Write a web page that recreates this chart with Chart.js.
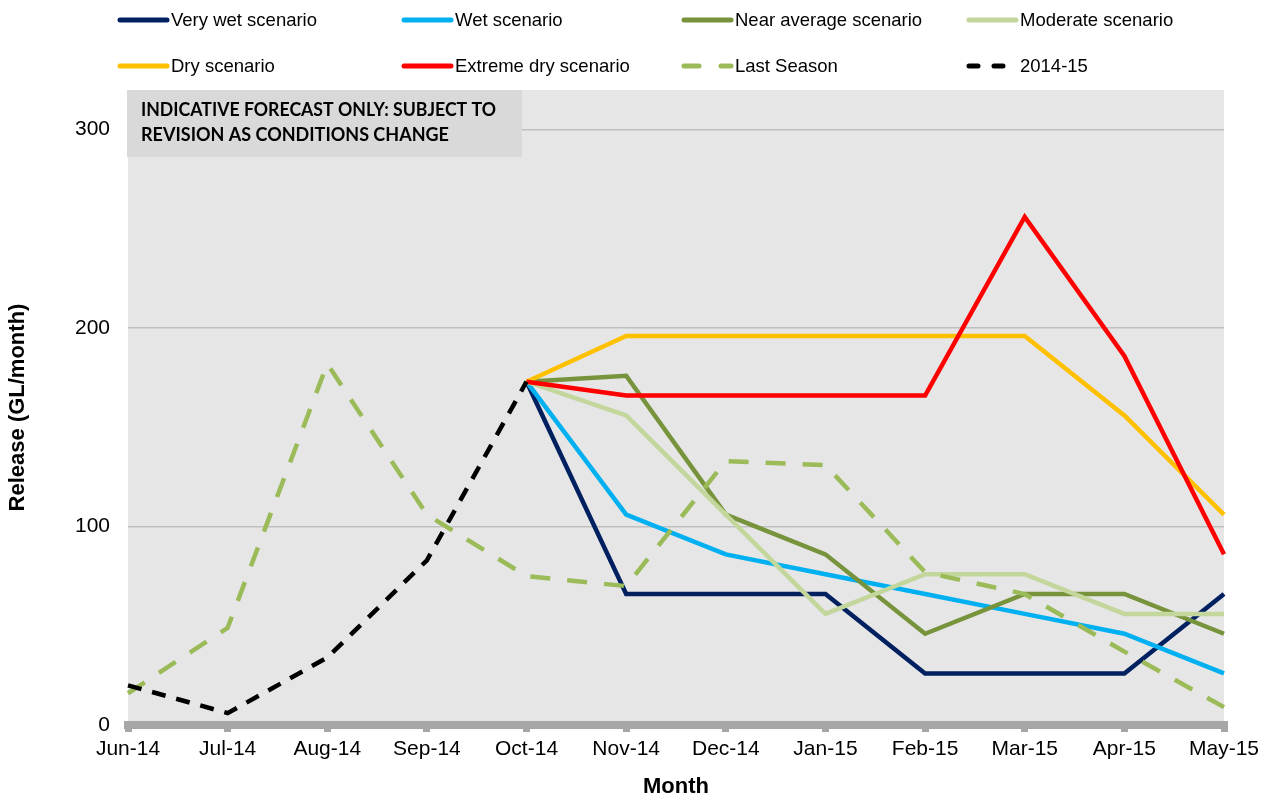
<!DOCTYPE html>
<html>
<head>
<meta charset="utf-8">
<script src="https://cdn.jsdelivr.net/npm/chart.js@4.4.7/dist/chart.umd.min.js"></script>
<style>
  html, body { margin: 0; padding: 0; background: #fff; }
  #wrap { position: relative; width: 1271px; height: 798px; }
</style>
</head>
<body>
<div id="wrap"><canvas id="chart"></canvas></div>
<script>
const months = ['Jun-14', 'Jul-14', 'Aug-14', 'Sep-14', 'Oct-14', 'Nov-14',
  'Dec-14', 'Jan-15', 'Feb-15', 'Mar-15', 'Apr-15', 'May-15'];

// GL/month, scenarios start from the Oct-14 actual
const veryWet     = [null, null, null, null, 173, 66, 66, 66, 26, 26, 26, 66];
const wet         = [null, null, null, null, 173, 106, 86, 76, 66, 56, 46, 26];
const nearAverage = [null, null, null, null, 173, 176, 106, 86, 46, 66, 66, 46];
const moderate    = [null, null, null, null, 173, 156, 106, 56, 76, 76, 56, 56];
const dry         = [null, null, null, null, 173, 196, 196, 196, 196, 196, 156, 106];
const extremeDry  = [null, null, null, null, 173, 166, 166, 166, 166, 256, 186, 86];
const lastSeason  = [16, 49, 182, 106, 75, 70, 133, 131, 77, 66, 37, 9];
const season1415  = [20, 6, 34, 83, 173, null, null, null, null, null, null, null];

const yTicks = [0, 100, 200, 300];

const FONT = '"Liberation Sans", Arial, sans-serif';

function line(label, data, color, dash) {
  return {
    label: label,
    data: data,
    borderColor: color,
    backgroundColor: color,
    borderWidth: 4.5,
    borderDash: dash || [],
    pointRadius: 0,
    pointHoverRadius: 0,
    tension: 0,
    spanGaps: false,
    fill: false
  };
}

const datasets = [
  line('Very wet scenario', veryWet, '#002060'),
  line('Wet scenario', wet, '#00B0F0'),
  line('Near average scenario', nearAverage, '#77933C'),
  line('Moderate scenario', moderate, '#C3D69B'),
  line('Dry scenario', dry, '#FFC000'),
  line('Extreme dry scenario', extremeDry, '#FF0000'),
  line('Last Season', lastSeason, '#9BBB59', [20, 17]),
  line('2014-15', season1415, '#000000', [14, 11])
];
// later series sit on top
datasets.forEach((d, i) => { d.order = datasets.length - i; });

// grey plot background
const plotBackground = {
  id: 'plotBackground',
  beforeDraw(chart) {
    const { ctx, chartArea: a } = chart;
    ctx.save();
    ctx.fillStyle = '#E6E6E6';
    ctx.fillRect(a.left, a.top, a.right - a.left, a.bottom - a.top);
    ctx.restore();
  }
};

// forecast note in the top left corner of the plot
const forecastNote = {
  id: 'forecastNote',
  afterDraw(chart) {
    const { ctx, chartArea: a } = chart;
    ctx.save();
    ctx.fillStyle = '#D9D9D9';
    ctx.fillRect(a.left - 1, a.top, 395, 67);
    ctx.fillStyle = '#000';
    ctx.font = 'bold 18px Lato, "Open Sans", sans-serif';
    ctx.textBaseline = 'middle';
    ctx.textAlign = 'left';
    ctx.fillText('INDICATIVE FORECAST ONLY: SUBJECT TO', a.left + 13, a.top + 20, 355);
    ctx.fillText('REVISION AS CONDITIONS CHANGE', a.left + 13, a.top + 45, 355);
    ctx.restore();
  }
};

// four-column legend above the plot
const gridLegend = {
  id: 'gridLegend',
  afterDraw(chart) {
    const { ctx } = chart;
    const cols = [117, 401, 681, 966];
    const rows = [20, 66];
    ctx.save();
    ctx.font = '18.5px ' + FONT;
    ctx.textBaseline = 'middle';
    ctx.textAlign = 'left';
    chart.data.datasets.forEach((ds, i) => {
      const x = cols[i % 4];
      const y = rows[Math.floor(i / 4)];
      const dashed = ds.borderDash.length > 0;
      ctx.strokeStyle = ds.borderColor;
      ctx.lineWidth = 5;
      ctx.lineCap = 'round';
      ctx.setLineDash(dashed ? [ds.borderDash[0] - 5, ds.borderDash[1] + 5] : []);
      ctx.beginPath();
      ctx.moveTo(x + 3, y);
      ctx.lineTo(x + 50, y);
      ctx.stroke();
      ctx.setLineDash([]);
      ctx.fillStyle = '#000';
      ctx.fillText(ds.label, x + 54, y + 1);
    });
    ctx.restore();
  }
};

new Chart(document.getElementById('chart'), {
  type: 'line',
  data: { labels: months, datasets: datasets },
  plugins: [plotBackground, forecastNote, gridLegend],
  options: {
    responsive: true,
    maintainAspectRatio: false,
    animation: false,
    layout: { padding: { top: 90, right: 47, left: 0, bottom: 0 } },
    plugins: {
      legend: { display: false },
      tooltip: { enabled: false }
    },
    scales: {
      x: {
        offset: false,
        grid: {
          display: true,
          drawOnChartArea: false,
          drawTicks: true,
          tickLength: 7,
          lineWidth: 7,
          color: '#A6A6A6'
        },
        border: { display: true, width: 8, color: '#A6A6A6' },
        ticks: {
          color: '#000',
          font: { family: FONT, size: 21 },
          padding: 5,
          maxRotation: 0,
          autoSkip: false
        },
        title: {
          display: true,
          text: 'Month',
          color: '#000',
          font: { family: FONT, size: 22, weight: 'bold', lineHeight: 1 },
          padding: 0
        },
        afterFit(scale) { scale.height = 73; }
      },
      y: {
        min: 0,
        max: 320,
        afterBuildTicks(scale) {
          scale.ticks = yTicks.map(v => ({ value: v }));
        },
        ticks: {
          color: '#000',
          font: { family: FONT, size: 21 },
          padding: 18
        },
        grid: { color: '#BFBFBF', lineWidth: 1.5, drawTicks: false },
        border: { display: false },
        title: {
          display: true,
          text: 'Release (GL/month)',
          color: '#000',
          font: { family: FONT, size: 22, weight: 'bold', lineHeight: 1 },
          padding: { top: 7, bottom: 0 }
        },
        afterFit(scale) { scale.width = 128; }
      }
    }
  }
});
</script>
</body>
</html>
